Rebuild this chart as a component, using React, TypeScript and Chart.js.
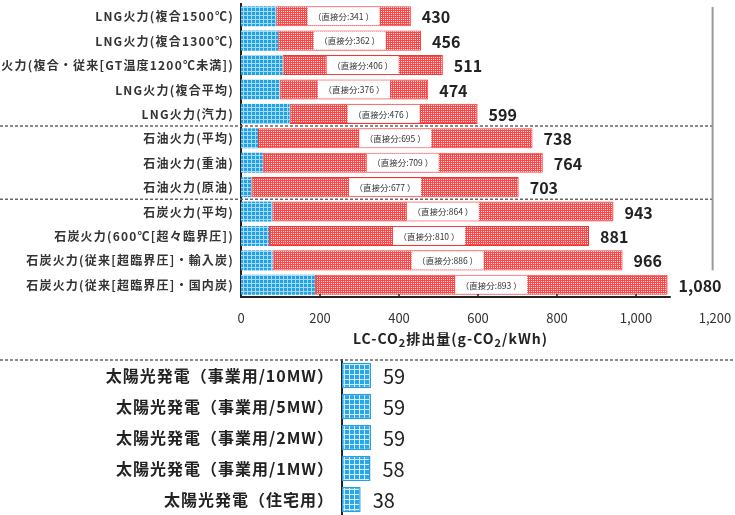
import React, { useEffect, useRef } from 'react';
import { Chart, registerables } from 'chart.js';

Chart.register(...registerables);

const FONT = '"Noto Sans CJK JP", "Noto Sans", sans-serif';

// ---- Data (fossil-fuel chart) ----
const fossilLabels = [
  'LNG火力(複合1500℃)',
  'LNG火力(複合1300℃)',
  'LNG火力(複合・従来[GT温度1200℃未満])',
  'LNG火力(複合平均)',
  'LNG火力(汽力)',
  '石油火力(平均)',
  '石油火力(重油)',
  '石油火力(原油)',
  '石炭火力(平均)',
  '石炭火力(600℃[超々臨界圧])',
  '石炭火力(従来[超臨界圧]・輸入炭)',
  '石炭火力(従来[超臨界圧]・国内炭)',
];
const fossilTotal = [430, 456, 511, 474, 599, 738, 764, 703, 943, 881, 966, 1080];
const fossilDirect = [341, 362, 406, 376, 476, 695, 709, 677, 864, 810, 886, 893];
const groupBreaks = [5, 8];
const xTickValues = [0, 200, 400, 600, 800, 1000, 1200];

// ---- Data (solar chart) ----
const solarLabels = [
  '太陽光発電（事業用/10MW）',
  '太陽光発電（事業用/5MW）',
  '太陽光発電（事業用/2MW）',
  '太陽光発電（事業用/1MW）',
  '太陽光発電（住宅用）',
];
const solarValues = [59, 59, 59, 58, 38];

function makePattern(kind: 'blue' | 'red' | 'blueBig'): CanvasPattern | string {
  const c = document.createElement('canvas');
  const s = kind === 'blueBig' ? 5 : 4;
  c.width = s;
  c.height = s;
  const g = c.getContext('2d');
  if (!g) return '#3aa8e8';
  if (kind === 'red') {
    g.fillStyle = '#ff4545';
    g.fillRect(0, 0, s, s);
    g.fillStyle = 'rgba(255,255,255,0.85)';
    g.fillRect(1, 1, 1, 1);
    g.fillRect(3, 3, 1, 1);
    g.fillRect(1, 3, 1, 1);
    g.fillRect(3, 1, 1, 1);
  } else {
    g.fillStyle = kind === 'blueBig' ? '#2aa6ea' : '#22a2e6';
    g.fillRect(0, 0, s, s);
    g.fillStyle = kind === 'blueBig' ? 'rgba(255,255,255,0.8)' : 'rgba(255,255,255,0.6)';
    g.fillRect(0, s - 1, s, 1);
    g.fillRect(s - 1, 0, 1, s - 1);
  }
  const p = g.createPattern(c, 'repeat');
  return p || '#3aa8e8';
}

const fmt = (v: number) => v.toLocaleString('en-US');

function drawCategoryLabels(chart: any, labels: string[], font: string, spacing: string, rightX: number, color: string) {
  const { ctx } = chart;
  const y = chart.scales.y;
  ctx.save();
  ctx.font = font;
  (ctx as any).letterSpacing = spacing;
  ctx.fillStyle = color;
  ctx.textAlign = 'right';
  ctx.textBaseline = 'middle';
  labels.forEach((l, i) => {
    ctx.fillText(l, rightX, y.getPixelForValue(i) + 0.5);
  });
  ctx.restore();
}

const topPlugin = {
  id: 'topDecor',
  afterDatasetsDraw(chart: any) {
    const { ctx, chartArea, scales } = chart;
    const x = scales.x;
    const y = scales.y;
    ctx.save();
    // dashed group separators
    ctx.strokeStyle = '#666';
    ctx.lineWidth = 1.5;
    ctx.setLineDash([3, 2]);
    for (const b of groupBreaks) {
      const yy = (y.getPixelForValue(b - 1) + y.getPixelForValue(b)) / 2;
      ctx.beginPath();
      ctx.moveTo(0, yy);
      ctx.lineTo(x.getPixelForValue(1194), yy);
      ctx.stroke();
    }
    ctx.setLineDash([]);
    // right gray vertical line
    ctx.strokeStyle = '#999';
    ctx.lineWidth = 2;
    const rx = x.getPixelForValue(1194);
    ctx.beginPath();
    ctx.moveTo(rx, chartArea.top + 3);
    ctx.lineTo(rx, y.getPixelForValue(10.4));
    ctx.stroke();
    // x axis line
    ctx.strokeStyle = '#222';
    ctx.lineWidth = 2;
    ctx.beginPath();
    ctx.moveTo(chartArea.left, chartArea.bottom);
    ctx.lineTo(x.getPixelForValue(1088), chartArea.bottom);
    ctx.stroke();
    ctx.lineWidth = 1.5;
    for (const t of [200, 400, 600, 800, 1000]) {
      const tx = x.getPixelForValue(t);
      ctx.beginPath();
      ctx.moveTo(tx, chartArea.bottom);
      ctx.lineTo(tx, chartArea.bottom - 3);
      ctx.stroke();
    }
    // labels
    const meta = chart.getDatasetMeta(1);
    meta.data.forEach((bar: any, i: number) => {
      const p = bar.getProps(['x', 'y', 'base', 'height'], true);
      const cx = (p.base + p.x) / 2;
      const bw = 72;
      const bh = p.height - 2;
      ctx.fillStyle = '#fff';
      ctx.fillRect(cx - bw / 2, p.y - bh / 2, bw, bh);
      ctx.fillStyle = '#333';
      ctx.font = `8.5px ${FONT}`;
      ctx.textAlign = 'center';
      ctx.textBaseline = 'middle';
      ctx.fillText(`（直接分:${fossilDirect[i]} ）`, cx, p.y + 0.5);
      ctx.font = `bold 16px ${FONT}`;
      ctx.fillStyle = '#222';
      ctx.textAlign = 'left';
      ctx.fillText(fmt(fossilTotal[i]), p.x + 11, p.y + 1);
    });
    // axis title with subscripts
    const parts: [string, boolean][] = [
      ['LC-CO', false],
      ['2', true],
      ['排出量(g-CO', false],
      ['2', true],
      ['/kWh)', false],
    ];
    let tx = 353;
    const ty = 339;
    ctx.textAlign = 'left';
    ctx.textBaseline = 'middle';
    ctx.fillStyle = '#222';
    (ctx as any).letterSpacing = '1px';
    for (const [s, sub] of parts) {
      ctx.font = sub ? `bold 11px ${FONT}` : `bold 14px ${FONT}`;
      ctx.fillText(s, tx, sub ? ty + 4 : ty);
      tx += ctx.measureText(s).width;
    }
    (ctx as any).letterSpacing = '0px';
    ctx.restore();
    drawCategoryLabels(chart, fossilLabels, `bold 12px ${FONT}`, '1.2px', chartArea.left - 7, '#333');
  },
};

const bottomPlugin = {
  id: 'bottomDecor',
  afterDatasetsDraw(chart: any) {
    const { ctx, chartArea } = chart;
    ctx.save();
    ctx.strokeStyle = '#666';
    ctx.lineWidth = 1.5;
    ctx.setLineDash([3, 2]);
    ctx.beginPath();
    ctx.moveTo(0, chartArea.top);
    ctx.lineTo(chart.width, chartArea.top);
    ctx.stroke();
    ctx.setLineDash([]);
    const meta = chart.getDatasetMeta(0);
    meta.data.forEach((bar: any, i: number) => {
      const p = bar.getProps(['x', 'y'], true);
      ctx.fillStyle = '#222';
      ctx.font = `20px ${FONT}`;
      ctx.textAlign = 'left';
      ctx.textBaseline = 'middle';
      ctx.fillText(String(solarValues[i]), p.x + 12, p.y + 1);
    });
    ctx.restore();
    drawCategoryLabels(chart, solarLabels, `bold 16px ${FONT}`, '1px', chartArea.left - 8, '#222');
  },
};

export default function App() {
  const topRef = useRef<HTMLCanvasElement>(null);
  const botRef = useRef<HTMLCanvasElement>(null);

  useEffect(() => {
    if (!topRef.current || !botRef.current) return;
    const blue = makePattern('blue');
    const red = makePattern('red');
    const blueBig = makePattern('blueBig');
    const indirect = fossilTotal.map((t, i) => t - fossilDirect[i]);

    const top = new Chart(topRef.current, {
      type: 'bar',
      data: {
        labels: fossilLabels,
        datasets: [
          {
            label: '間接分',
            data: indirect,
            backgroundColor: blue as any,
            borderWidth: 0,
            barPercentage: 0.82,
            categoryPercentage: 1,
          },
          {
            label: '直接分',
            data: fossilDirect,
            backgroundColor: red as any,
            borderColor: '#f03535',
            borderWidth: 1,
            borderSkipped: false,
            barPercentage: 0.82,
            categoryPercentage: 1,
          },
        ],
      },
      options: {
        indexAxis: 'y',
        responsive: false,
        animation: false,
        devicePixelRatio: 1,
        layout: { padding: { top: 4, right: 20, left: 0, bottom: 0 } },
        plugins: { legend: { display: false }, tooltip: { enabled: false } },
        scales: {
          x: {
            stacked: true,
            min: 0,
            max: 1200,
            afterFit: (s: any) => {
              s.height = 53;
              s.paddingLeft = 0;
              s.paddingRight = 0;
            },
            afterBuildTicks: (s: any) => {
              s.ticks = xTickValues.map((v) => ({ value: v }));
            },
            grid: { display: false, drawTicks: false },
            border: { display: false },
            ticks: {
              padding: 13,
              maxRotation: 0,
              autoSkip: false,
              color: '#333',
              font: { family: FONT, size: 13 },
              callback: (v: any) => fmt(Number(v)),
            },
          },
          y: {
            stacked: true,
            afterFit: (s: any) => {
              s.width = 241;
              s.paddingTop = 0;
              s.paddingBottom = 0;
            },
            grid: { display: false, drawTicks: false },
            border: { display: true, color: '#222', width: 2 },
            ticks: { display: false },
          },
        },
      },
      plugins: [topPlugin],
    } as any);

    const bottom = new Chart(botRef.current, {
      type: 'bar',
      data: {
        labels: solarLabels,
        datasets: [
          {
            label: '太陽光',
            data: solarValues,
            backgroundColor: blueBig as any,
            borderColor: '#2a9fe0',
            borderWidth: 1.5,
            borderSkipped: false,
            barPercentage: 0.82,
            categoryPercentage: 1,
          },
        ],
      },
      options: {
        indexAxis: 'y',
        responsive: false,
        animation: false,
        devicePixelRatio: 1,
        layout: { padding: { top: 10, right: 0, left: 0, bottom: 0 } },
        plugins: { legend: { display: false }, tooltip: { enabled: false } },
        scales: {
          x: { display: false, min: 0, max: 800 },
          y: {
            afterFit: (s: any) => {
              s.width = 342;
              s.paddingTop = 0;
              s.paddingBottom = 0;
            },
            grid: { display: false, drawTicks: false },
            border: { display: true, color: '#222', width: 2 },
            ticks: { display: false },
          },
        },
      },
      plugins: [bottomPlugin],
    } as any);

    return () => {
      top.destroy();
      bottom.destroy();
    };
  }, []);

  return (
    <div style={{ position: 'absolute', left: 0, top: 0, width: 735, height: 515, background: '#fff', overflow: 'hidden' }}>
      <canvas ref={topRef} width={735} height={350} style={{ position: 'absolute', left: 0, top: 0, width: 735, height: 350 }} />
      <canvas ref={botRef} width={735} height={165} style={{ position: 'absolute', left: 0, top: 350, width: 735, height: 165 }} />
    </div>
  );
}
